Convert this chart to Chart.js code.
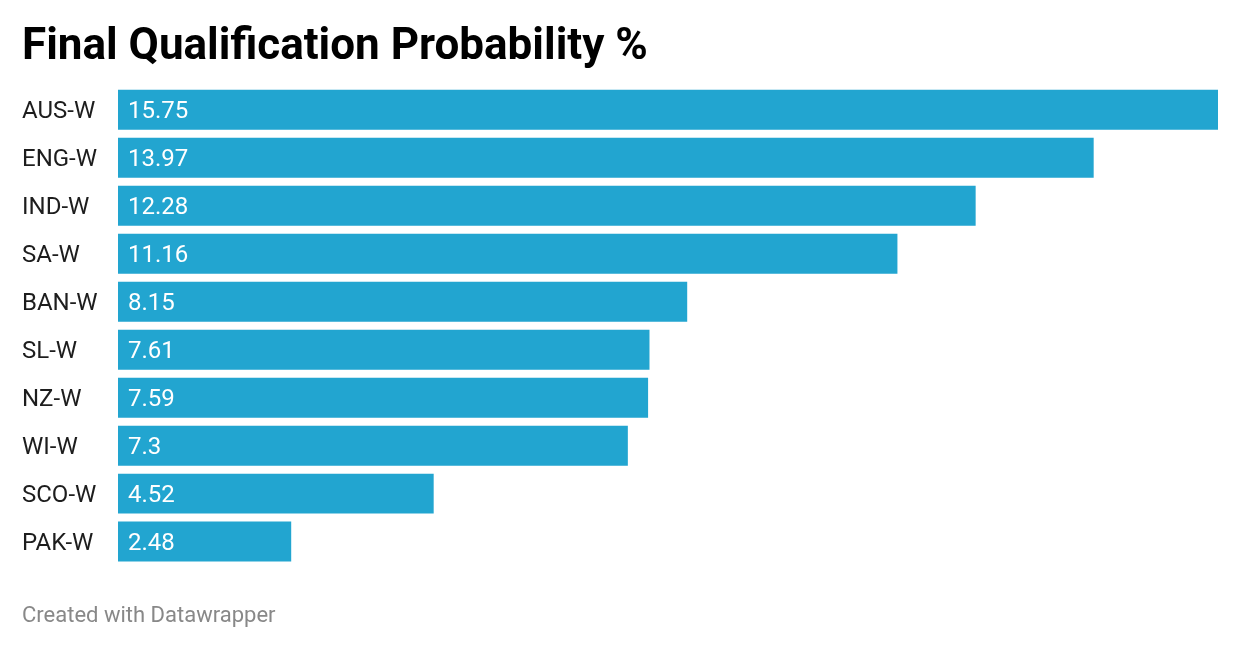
<!DOCTYPE html>
<html>
<head>
<meta charset="utf-8">
<script src="https://cdn.jsdelivr.net/npm/chart.js@4"></script>
<style>
    html, body { margin: 0; padding: 0; background: #ffffff; }
    #wrap { width: 1240px; height: 648px; position: relative; }
</style>
</head>
<body>
<div id="wrap"><canvas id="grafico"></canvas></div>
<script>
const teams = ['AUS-W', 'ENG-W', 'IND-W', 'SA-W', 'BAN-W', 'SL-W', 'NZ-W', 'WI-W', 'SCO-W', 'PAK-W'];
const probability = [15.75, 13.97, 12.28, 11.16, 8.15, 7.61, 7.59, 7.3, 4.52, 2.48];
const chartTitle = 'Final Qualification Probability %';
const footerText = 'Created with Datawrapper';

const barColor = '#22a5d0';
const fontFamily = 'Roboto, Arial, Helvetica, sans-serif';

// draws the white value label inside each bar, at its left end
const valueLabels = {
    id: 'valueLabels',
    afterDatasetsDraw(chart) {
        const ctx = chart.ctx;
        const meta = chart.getDatasetMeta(0);
        ctx.save();
        ctx.fillStyle = '#ffffff';
        ctx.font = `24px ${fontFamily}`;
        ctx.textAlign = 'left';
        ctx.textBaseline = 'middle';
        meta.data.forEach((bar, i) => {
            ctx.fillText(String(chart.data.datasets[0].data[i]), bar.base + 10, bar.y + 2);
        });
        ctx.restore();
    }
};

const ctx = document.getElementById('grafico').getContext('2d');

new Chart(ctx, {
    type: 'bar',
    data: {
        labels: teams,
        datasets: [{
            data: probability,
            backgroundColor: barColor,
            barPercentage: 40 / 48,
            categoryPercentage: 1
        }]
    },
    options: {
        indexAxis: 'y',
        responsive: true,
        maintainAspectRatio: false,
        animation: false,
        layout: {
            padding: { left: 22, right: 22, top: 0, bottom: 18 }
        },
        scales: {
            x: {
                display: false,
                min: 0,
                max: 15.75
            },
            y: {
                grid: { display: false, drawTicks: false },
                border: { display: false },
                ticks: {
                    crossAlign: 'far',
                    padding: 0,
                    labelOffset: 2,
                    color: '#1d1d1d',
                    font: { family: fontFamily, size: 24 }
                },
                afterFit: function (scale) {
                    scale.width = 96;
                }
            }
        },
        plugins: {
            legend: { display: false },
            tooltip: { enabled: false },
            title: {
                display: true,
                text: chartTitle,
                align: 'start',
                color: '#000000',
                font: { family: fontFamily, size: 44, weight: 'bold' },
                padding: { top: 22, bottom: 11 }
            },
            subtitle: {
                display: true,
                position: 'bottom',
                text: footerText,
                align: 'start',
                color: '#888888',
                font: { family: fontFamily, size: 22 },
                padding: { top: 38, bottom: 0 }
            }
        }
    },
    plugins: [valueLabels]
});
</script>
</body>
</html>
